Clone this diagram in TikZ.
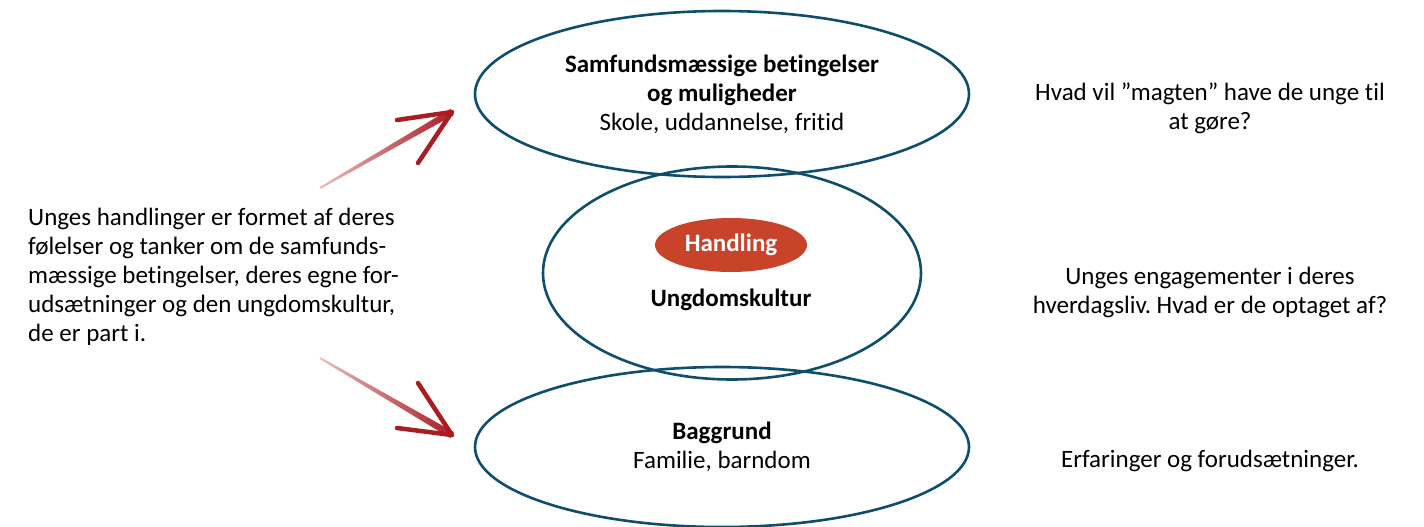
\documentclass[tikz,border=0pt]{standalone}
\usepackage{fontspec}
\setmainfont[Ligatures={NoCommon}]{Carlito}
\usetikzlibrary{shapes.geometric, calc}
\frenchspacing

\definecolor{ringblue}{RGB}{14,78,108}
\definecolor{actred}{RGB}{201,67,43}
\definecolor{brushred}{RGB}{168,28,34}
\definecolor{brushpale}{RGB}{236,190,190}

\begin{document}
\begin{tikzpicture}[x=1pt, y=-1pt,
    every node/.style={font=\fontsize{25}{29}\selectfont, inner sep=0pt},
    ring/.style={ellipse, draw=ringblue, line width=2.6pt},
    action/.style={ellipse, fill=actred, text=white, font=\fontsize{25}{29}\selectfont\bfseries},
    note/.style={align=center},
    barb/.style={draw=brushred, line width=4.5pt, line cap=round}]
    \useasboundingbox (0,0) rectangle (1424,527);

    % Circles
    \node[ring, minimum width=494pt, minimum height=166pt, align=center] (society) at (722,94)
        {\textbf{Samfundsmæssige betingelser}\\\textbf{og muligheder}\\Skole, uddannelse, fritid};
    \node[ring, minimum width=378pt, minimum height=213pt] (youth) at (732,273) {};
    \node[ring, minimum width=494pt, minimum height=160pt, align=center] (background) at (722,447)
        {\textbf{Baggrund}\\Familie, barndom};

    % Inside the middle circle
    \node[action, minimum width=152pt, minimum height=54pt] (act) at (731,245) {Handling};
    \node[font=\fontsize{25}{29}\selectfont\bfseries] (culture) at (731,300) {Ungdomskultur};

    % Left text
    \node[anchor=west, align=left] (intro) at (28,277)
        {Unges handlinger er formet af deres\\
         følelser og tanker om de samfunds-\\
         mæssige betingelser, deres egne for-\\
         udsætninger og den ungdomskultur,\\
         de er part i.};

    % Right texts
    \node[note] (q1) at (1210,108) {Hvad vil ”magten” have de unge til\\at gøre?};
    \node[note] (q2) at (1210,292) {Unges engagementer i deres\\hverdagsliv. Hvad er de optaget af?};
    \node[note] (q3) at (1210,461) {Erfaringer og forudsætninger.};

    % Brush arrows
    \coordinate (up tail) at (320,188);
    \coordinate (up tip) at (452,112);
    \coordinate (up b1) at (397,120);
    \coordinate (up b2) at (418,163);
    \coordinate (dn tail) at (320,358);
    \coordinate (dn tip) at (452,435);
    \coordinate (dn b1) at (418,383);
    \coordinate (dn b2) at (397,428);

    \shade[left color=brushpale, right color=brushred]
        ($(up tail)!1pt!90:(up tip)$) -- ($(up tip)!3.5pt!-90:(up tail)$)
        -- ($(up tip)!3.5pt!90:(up tail)$) -- ($(up tail)!1pt!-90:(up tip)$) -- cycle;
    \draw[barb] (up tip) -- (up b1)
        (up tip) -- (up b2);

    \shade[left color=brushpale, right color=brushred]
        ($(dn tail)!1pt!90:(dn tip)$) -- ($(dn tip)!3.5pt!-90:(dn tail)$)
        -- ($(dn tip)!3.5pt!90:(dn tail)$) -- ($(dn tail)!1pt!-90:(dn tip)$) -- cycle;
    \draw[barb] (dn tip) -- (dn b1)
        (dn tip) -- (dn b2);
\end{tikzpicture}
\end{document}
